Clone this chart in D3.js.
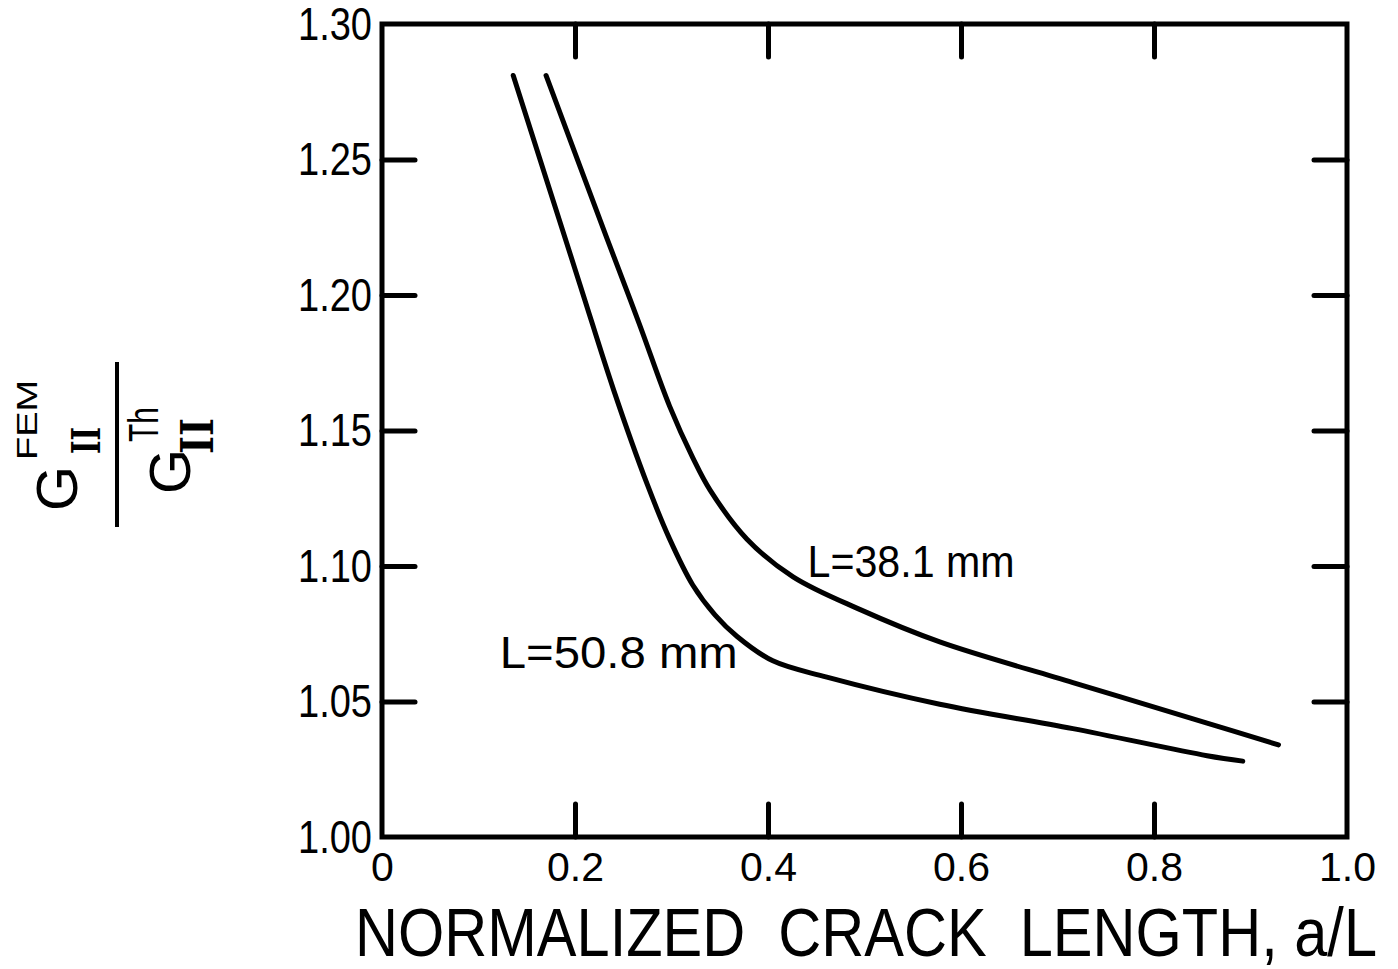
<!DOCTYPE html>
<html>
<head>
<meta charset="utf-8">
<script src="https://cdn.jsdelivr.net/npm/d3@7"></script>
<style>
  body { margin: 0; background: #fff; }
  svg { display: block; }
  text { font-family: "Liberation Sans", Arial, sans-serif; fill: #000; }
</style>
</head>
<body>
<svg id="chart" width="1398" height="969"></svg>
<script>
// Values
const xTicks = [0, 0.2, 0.4, 0.6, 0.8, 1.0];
const xTickLabels = ["0", "0.2", "0.4", "0.6", "0.8", "1.0"];
const yTicks = [1.00, 1.05, 1.10, 1.15, 1.20, 1.25, 1.30];
const yTickLabels = ["1.00", "1.05", "1.10", "1.15", "1.20", "1.25", "1.30"];

// L = 50.8 mm curve
const crack508 = [0.136, 0.205, 0.240, 0.275, 0.298, 0.322, 0.345, 0.368, 0.405, 0.461, 0.578, 0.716, 0.855, 0.892];
const ratio508 = [1.281, 1.204, 1.165, 1.130, 1.110, 1.093, 1.082, 1.074, 1.065, 1.059, 1.049, 1.040, 1.030, 1.028];

// L = 38.1 mm curve
const crack381 = [0.170, 0.233, 0.267, 0.298, 0.322, 0.340, 0.378, 0.426, 0.495, 0.578, 0.716, 0.855, 0.929];
const ratio381 = [1.281, 1.221, 1.189, 1.159, 1.140, 1.128, 1.110, 1.096, 1.084, 1.072, 1.057, 1.042, 1.034];

const curveLabels = ["L=50.8 mm", "L=38.1 mm"];

const svg = d3.select("#chart");
const margin = { top: 24, right: 51, bottom: 132, left: 382 };
const width = +svg.attr("width") - margin.left - margin.right;
const height = +svg.attr("height") - margin.top - margin.bottom;

const x = d3.scaleLinear().domain([0, 1]).range([0, width]);
const y = d3.scaleLinear().domain([1.0, 1.3]).range([height, 0]);

const g = svg.append("g").attr("transform", `translate(${margin.left},${margin.top})`);

const tickLen = 33;
const inner = v => v > 0.001 && v < 0.999;
const innerY = v => v > 1.001 && v < 1.299;

// bottom axis, ticks pointing inward
const bottomAxis = g.append("g")
    .attr("transform", `translate(0,${height})`)
    .call(d3.axisBottom(x).tickValues(xTicks).tickSizeInner(-tickLen).tickSizeOuter(0).tickPadding(15)
        .tickFormat((d, i) => xTickLabels[i]));
bottomAxis.selectAll(".tick line").filter(d => !inner(d)).remove();
bottomAxis.selectAll(".tick text").style("font-size", "41px").attr("dy", "0.71em");

// left axis
const leftAxis = g.append("g")
    .call(d3.axisLeft(y).tickValues(yTicks).tickSizeInner(-tickLen).tickSizeOuter(0).tickPadding(10)
        .tickFormat((d, i) => yTickLabels[i]));
leftAxis.selectAll(".tick line").filter(d => !innerY(d)).remove();
leftAxis.selectAll(".tick text").style("font-size", "47px")
    .attr("textLength", 74).attr("lengthAdjust", "spacingAndGlyphs");

// top and right mirrored ticks, no labels
g.append("g")
    .call(d3.axisTop(x).tickValues(xTicks.filter(inner)).tickSizeInner(-tickLen).tickSizeOuter(0).tickFormat(""));
g.append("g")
    .attr("transform", `translate(${width},0)`)
    .call(d3.axisRight(y).tickValues(yTicks.filter(innerY)).tickSizeInner(-tickLen).tickSizeOuter(0).tickFormat(""));

g.selectAll(".domain").remove();
g.selectAll(".tick line").attr("stroke", "#000").attr("stroke-width", 5).attr("stroke-linecap", "round");

// frame
g.append("rect")
    .attr("width", width)
    .attr("height", height)
    .attr("fill", "none")
    .attr("stroke", "#000")
    .attr("stroke-width", 5);

// curves
const line = d3.line()
    .x(d => x(d[0]))
    .y(d => y(d[1]))
    .curve(d3.curveCatmullRom.alpha(0.5));

[[crack508, ratio508], [crack381, ratio381]].forEach(([xs, ys]) => {
    g.append("path")
        .datum(xs.map((v, i) => [v, ys[i]]))
        .attr("d", line)
        .attr("fill", "none")
        .attr("stroke", "#000")
        .attr("stroke-width", 5)
        .attr("stroke-linecap", "round");
});

// curve labels
g.append("text")
    .attr("x", x(0.122)).attr("y", y(1.0624))
    .style("font-size", "44px")
    .attr("textLength", 238).attr("lengthAdjust", "spacingAndGlyphs")
    .text(curveLabels[0]);
g.append("text")
    .attr("x", x(0.441)).attr("y", y(1.0959))
    .style("font-size", "44px")
    .attr("textLength", 207).attr("lengthAdjust", "spacingAndGlyphs")
    .text(curveLabels[1]);

// x axis title
svg.append("text")
    .attr("x", 355)
    .attr("y", 956)
    .style("font-size", "68px")
    .style("white-space", "pre")
    .attr("textLength", 1022).attr("lengthAdjust", "spacingAndGlyphs")
    .text("NORMALIZED  CRACK  LENGTH, a/L");

// y axis title: G_II^FEM / G_II^Th, rotated
const yt = svg.append("g").attr("transform", "translate(117,445) rotate(-90)");
yt.append("line")
    .attr("x1", -82).attr("x2", 83)
    .attr("stroke", "#000").attr("stroke-width", 4);

yt.append("text").attr("x", -66).attr("y", -40).style("font-size", "58px").text("G");
yt.append("text").attr("x", -9).attr("y", -17).style("font-size", "40px")
    .style("font-family", "DejaVu Serif").style("font-weight", "bold")
    .attr("textLength", 27).attr("lengthAdjust", "spacingAndGlyphs").text("II");
yt.append("text").attr("x", -15).attr("y", -80).style("font-size", "30px")
    .attr("textLength", 80).attr("lengthAdjust", "spacingAndGlyphs").text("FEM");

yt.append("text").attr("x", -49).attr("y", 73).style("font-size", "58px").text("G");
yt.append("text").attr("x", -9).attr("y", 96).style("font-size", "44px")
    .style("font-family", "DejaVu Serif").style("font-weight", "bold")
    .attr("textLength", 36).attr("lengthAdjust", "spacingAndGlyphs").text("II");
yt.append("text").attr("x", 3).attr("y", 41).style("font-size", "42px")
    .attr("textLength", 35).attr("lengthAdjust", "spacingAndGlyphs").text("Th");
</script>
</body>
</html>
